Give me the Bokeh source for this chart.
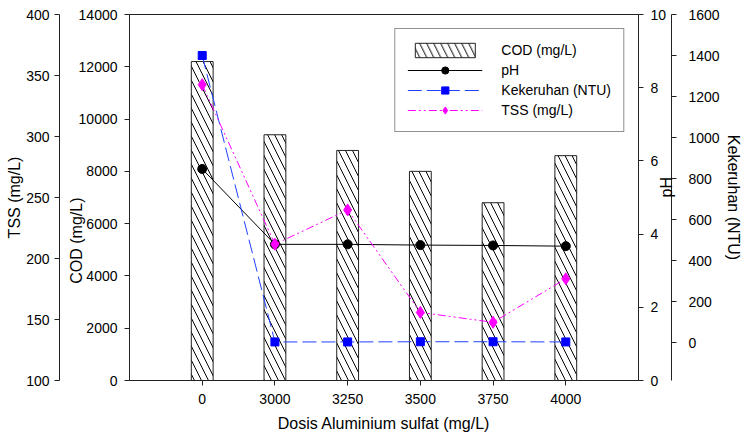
import math
from bokeh.plotting import figure
from bokeh.models import (Range1d, LinearAxis, FixedTicker, Legend, LegendItem,
                          ColumnDataSource)
from bokeh.embed import file_html
from bokeh.resources import INLINE

# ---- data ----
dosis = ["0", "3000", "3250", "3500", "3750", "4000"]
cod = [12200, 9400, 8800, 8000, 6800, 8600]
ph = [5.78, 3.72, 3.72, 3.70, 3.69, 3.67]
kekeruhan = [1400, 3, 3, 4, 4, 3]
tss = [342.5, 211.7, 239.8, 155.8, 147.7, 183.4]

cod_ticks = [0, 2000, 4000, 6000, 8000, 10000, 12000, 14000]
tss_ticks = [100, 150, 200, 250, 300, 350, 400]
ph_ticks = [0, 2, 4, 6, 8, 10]
ntu_ticks = [0, 200, 400, 600, 800, 1000, 1200, 1400, 1600]

xpos = list(range(len(dosis)))
src = ColumnDataSource(dict(x=xpos, cod=cod, ph=ph, ntu=kekeruhan, tss=tss))

FONT = "Liberation Sans"

p = figure(width=744, height=434, output_backend="svg", toolbar_location=None,
           x_range=Range1d(-1, 6), y_range=Range1d(0, 14000),
           min_border_left=129, min_border_right=104,
           min_border_top=14, min_border_bottom=53)
p.extra_y_ranges = {
    "tss": Range1d(100, 400),
    "ph": Range1d(0, 10),
    "ntu": Range1d(-185, 1600),
}
p.grid.visible = False
p.outline_line_color = "#222222"
p.outline_line_width = 1
p.background_fill_color = "white"
p.border_fill_color = "white"


def style_axis(ax, ticks, label, label_standoff, tick_standoff):
    ax.ticker = FixedTicker(ticks=ticks)
    ax.axis_label = label
    ax.axis_label_text_font = FONT
    ax.axis_label_text_font_size = "16px"
    ax.axis_label_text_font_style = "normal"
    ax.axis_label_text_color = "black"
    ax.axis_label_standoff = label_standoff
    ax.major_label_text_font = FONT
    ax.major_label_text_font_size = "14px"
    ax.major_label_text_color = "black"
    ax.major_label_standoff = tick_standoff
    ax.major_tick_in = 0
    ax.major_tick_out = 5
    ax.minor_tick_in = 0
    ax.minor_tick_out = 0
    ax.axis_line_color = "#222222"
    ax.major_tick_line_color = "#222222"


def title_axis(label, standoff, side):
    # an axis that only carries a vertical title reading bottom-to-top
    ax = LinearAxis(y_range_name="ph")
    ax.ticker = FixedTicker(ticks=[])
    ax.axis_line_color = None
    ax.major_tick_line_color = None
    ax.minor_tick_line_color = None
    ax.major_tick_out = 0
    ax.major_tick_in = 0
    ax.minor_tick_out = 0
    ax.minor_tick_in = 0
    ax.major_label_standoff = 0
    ax.axis_label = label
    ax.axis_label_orientation = math.pi / 2
    ax.axis_label_standoff = standoff
    ax.axis_label_text_font = FONT
    ax.axis_label_text_font_size = "16px"
    ax.axis_label_text_font_style = "normal"
    ax.axis_label_text_color = "black"
    p.add_layout(ax, side)
    return ax


# x axis
xa = p.xaxis[0]
style_axis(xa, xpos, "Dosis Aluminium sulfat (mg/L)", 8, 8)
xa.major_label_overrides = {i: d for i, d in zip(xpos, dosis)}

# COD (primary, left); blank label keeps room, title drawn further out
style_axis(p.yaxis[0], cod_ticks, " ", -4, 7)

# TSS (far left)
tss_axis = LinearAxis(y_range_name="tss")
style_axis(tss_axis, tss_ticks, "TSS (mg/L)", 0, 5)
p.add_layout(tss_axis, "left")

# pH (right)
ph_axis = LinearAxis(y_range_name="ph")
style_axis(ph_axis, ph_ticks, " ", -18, 7)
p.add_layout(ph_axis, "right")

# Kekeruhan (far right)
ntu_axis = LinearAxis(y_range_name="ntu")
style_axis(ntu_axis, ntu_ticks, "Kekeruhan (NTU)", 2, 12)
p.add_layout(ntu_axis, "right")

# vertical titles placed by zero-width helper axes
title_axis("COD (mg/L)", -73, "left")
title_axis("pH", -78, "right")

# bars
bars = p.vbar(x="x", top="cod", width=0.3, bottom=0, source=src,
              fill_color="white", line_color="#222222", line_width=1,
              hatch_pattern="\\", hatch_color="black", hatch_scale=14,
              hatch_weight=1)

# pH
ph_line = p.line("x", "ph", source=src, y_range_name="ph",
                 line_color="black", line_width=1)
ph_pts = p.scatter("x", "ph", source=src, y_range_name="ph", marker="circle",
                   size=9, fill_color="black", line_color="black")

# Kekeruhan
ntu_line = p.line("x", "ntu", source=src, y_range_name="ntu",
                  line_color="#2040ff", line_width=1, line_dash="14 5")
ntu_pts = p.scatter("x", "ntu", source=src, y_range_name="ntu", marker="square",
                    size=8, fill_color="#0000ff", line_color="#0000ff")

# TSS
tss_line = p.line("x", "tss", source=src, y_range_name="tss",
                  line_color="#ff00ff", line_width=1, line_dash="8 3 2 3 2 3")
tss_pts = p.scatter("x", "tss", source=src, y_range_name="tss", marker="diamond",
                    size=12, fill_color="#ff00ff", line_color="#ff00ff")

legend = Legend(items=[
    LegendItem(label="COD (mg/L)", renderers=[bars]),
    LegendItem(label="pH", renderers=[ph_line, ph_pts]),
    LegendItem(label="Kekeruhan (NTU)", renderers=[ntu_line, ntu_pts]),
    LegendItem(label="TSS (mg/L)", renderers=[tss_line, tss_pts]),
], location="top_right")
legend.margin = 14
legend.padding = 12
legend.spacing = 2
legend.glyph_width = 75
legend.glyph_height = 18
legend.label_height = 16
legend.label_standoff = 19
legend.label_text_font = FONT
legend.label_text_font_size = "14px"
legend.label_text_color = "black"
legend.border_line_color = "#222222"
legend.border_line_width = 1
legend.background_fill_color = "white"
legend.background_fill_alpha = 1
p.add_layout(legend)

open("out.html", "w").write(file_html(p, INLINE))
